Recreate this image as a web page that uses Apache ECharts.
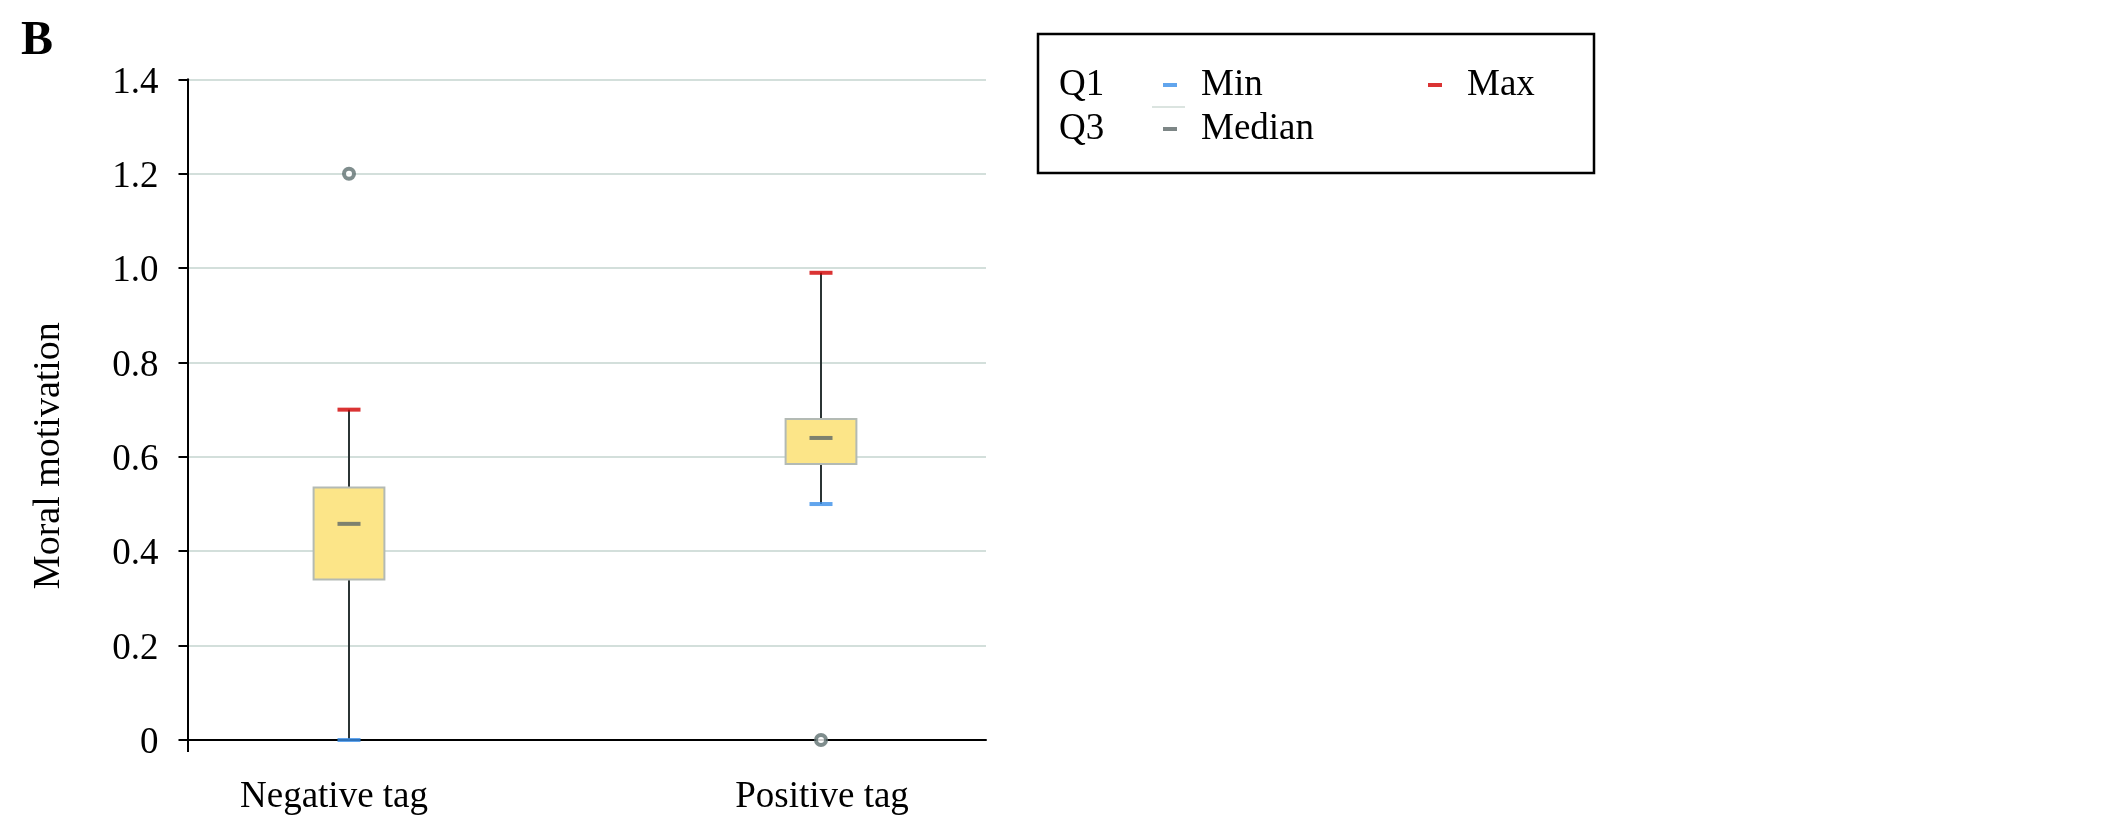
<!DOCTYPE html>
<html>
<head>
<meta charset="utf-8">
<script src="https://cdn.jsdelivr.net/npm/echarts@6/dist/echarts.min.js"></script>
<style>
html,body{margin:0;padding:0;background:#fff;}
#chart{width:2126px;height:839px;}
</style>
</head>
<body>
<div id="chart"></div>
<script>
// ---- data ----
const categories = ['Negative tag', 'Positive tag'];
const minVals = [0.00, 0.50];
const q1Vals = [0.34, 0.585];
const medianVals = [0.458, 0.64];
const q3Vals = [0.535, 0.68];
const maxVals = [0.70, 0.99];
const outlierCats = [0, 1];
const outlierVals = [1.20, 0.00];
const yTickValues = [0, 0.2, 0.4, 0.6, 0.8, 1.0, 1.2, 1.4];
const legendNames = ['Q1', 'Min', 'Max', 'Q3', 'Median'];

const FONT = 'Liberation Serif';

const boxData = categories.map((c, i) => [i, minVals[i], q1Vals[i], q3Vals[i], maxVals[i]]);
const minData = categories.map((c, i) => [i, minVals[i]]);
const maxData = categories.map((c, i) => [i, maxVals[i]]);
const medData = categories.map((c, i) => [i, medianVals[i]]);
const outData = outlierCats.map((c, i) => [c, outlierVals[i]]);

function renderBox(params, api) {
  const x = api.value(0);
  const lo = api.coord([x, api.value(1)]);
  const q1 = api.coord([x, api.value(2)]);
  const q3 = api.coord([x, api.value(3)]);
  const hi = api.coord([x, api.value(4)]);
  const bw = api.size([1, 0])[0] * 0.15;
  const wStyle = { stroke: '#2b3434', lineWidth: 2 };
  return {
    type: 'group',
    children: [
      { type: 'line', shape: { x1: lo[0], y1: lo[1], x2: q1[0], y2: q1[1] }, style: wStyle },
      { type: 'line', shape: { x1: q3[0], y1: q3[1], x2: hi[0], y2: hi[1] }, style: wStyle },
      { type: 'rect', shape: { x: q3[0] - bw / 2, y: q3[1], width: bw, height: q1[1] - q3[1] },
        style: { fill: '#fce588', stroke: '#b3bab4', lineWidth: 2 } }
    ]
  };
}

const tok = { fontFamily: FONT, fontSize: 37, lineHeight: 44, color: '#000', align: 'left' };
const chart = echarts.init(document.getElementById('chart'), null, { renderer: 'canvas' });
chart.setOption({
  animation: false,
  backgroundColor: '#fff',
  title: {
    text: 'B', left: 16, top: 13,
    textStyle: { fontFamily: FONT, fontSize: 48, fontWeight: 'bold', color: '#000' }
  },
  legend: {
    left: 1038, top: 34, width: 560,
    orient: 'horizontal',
    padding: [29, 47, 22, 2],
    itemGap: 0, itemWidth: 14, itemHeight: 4,
    borderColor: '#000', borderWidth: 2.5,
    selectedMode: false,
    icon: 'rect',
    data: legendNames,
    formatter: function (name) {
      if (name === 'Q1' || name === 'Q3') return '{q|' + name + '}';
      if (name === 'Max') return '{g2| }{x|' + name + '}';
      return '{g| }{w|' + name + '}';
    },
    textStyle: {
      fontFamily: FONT, fontSize: 37, lineHeight: 44, color: '#000',
      rich: {
        q: Object.assign({}, tok, { width: 104 }),
        g: Object.assign({}, tok, { width: 19 }),
        g2: Object.assign({}, tok, { width: 20 }),
        w: Object.assign({}, tok, { width: 227 }),
        x: Object.assign({}, tok, { width: 80 })
      }
    }
  },
  graphic: [
    { type: 'line', shape: { x1: 1152, y1: 107, x2: 1185, y2: 107 }, style: { stroke: '#dbe4e0', lineWidth: 2 } }
  ],
  grid: [
    { left: 187.5, right: 2126 - 986, top: 79.3, bottom: 839 - 740 },
    { left: 113, right: 2126 - 1057, top: 79.3, bottom: 839 - 740 }
  ],
  xAxis: [
    {
      gridIndex: 0, type: 'value', min: 0, max: 1, interval: 1,
      axisLine: { show: true, lineStyle: { color: '#000', width: 2 } },
      axisTick: { show: true, length: 12, customValues: [0], lineStyle: { color: '#000', width: 2 } },
      axisLabel: { show: false },
      splitLine: { show: false }
    },
    {
      gridIndex: 1, type: 'category', data: categories, boundaryGap: true,
      axisLine: { show: false }, axisTick: { show: false }, splitLine: { show: false },
      axisLabel: {
        margin: 39,
        formatter: function (v, i) { return i === 0 ? '{n|' + v + '}' : '{p|' + v + '}'; },
        rich: {
          n: { fontFamily: FONT, fontSize: 37, lineHeight: 37, color: '#000', padding: [0, 30, 0, 0] },
          p: { fontFamily: FONT, fontSize: 37, lineHeight: 37, color: '#000', padding: [0, 0, 0, 2] }
        }
      }
    }
  ],
  yAxis: [
    {
      gridIndex: 0, type: 'value', min: 0, max: 1.4, interval: 0.2,
      name: 'Moral motivation', nameLocation: 'middle', nameGap: 119,
      nameTextStyle: { fontFamily: FONT, fontSize: 38, color: '#000', padding: [0, 92, 0, 0] },
      axisLine: { show: true, lineStyle: { color: '#000', width: 2 } },
      axisTick: { show: true, length: 9, lineStyle: { color: '#000', width: 2 } },
      axisLabel: {
        margin: 29,
        formatter: function (v) {
          const idx = yTickValues.findIndex(t => Math.abs(t - v) < 1e-6);
          const t = idx >= 0 ? yTickValues[idx] : v;
          return '{t|' + (t === 0 ? '0' : t.toFixed(1)) + '}';
        },
        rich: {
          t: { fontFamily: FONT, fontSize: 37, lineHeight: 37, color: '#000', padding: [7, 0, 0, 0] }
        }
      },
      splitLine: { show: true, lineStyle: { color: '#d3dfdb', width: 2 } }
    },
    {
      gridIndex: 1, type: 'value', min: 0, max: 1.4, interval: 0.2, show: false
    }
  ],
  series: [
    { name: 'Q1', type: 'scatter', xAxisIndex: 1, yAxisIndex: 1, data: [], itemStyle: { color: 'rgba(0,0,0,0)' } },
    { name: 'Q3', type: 'scatter', xAxisIndex: 1, yAxisIndex: 1, data: [], itemStyle: { color: 'rgba(0,0,0,0)' } },
    {
      name: 'box', type: 'custom', xAxisIndex: 1, yAxisIndex: 1,
      renderItem: renderBox, data: boxData,
      encode: { x: 0, y: [1, 2, 3, 4] }, z: 2
    },
    {
      name: 'Min', type: 'scatter', xAxisIndex: 1, yAxisIndex: 1, data: minData,
      symbol: 'rect', symbolSize: [23, 4], itemStyle: { color: '#3a8ee8' }, z: 4
    },
    {
      name: 'Max', type: 'scatter', xAxisIndex: 1, yAxisIndex: 1, data: maxData,
      symbol: 'rect', symbolSize: [23, 4], itemStyle: { color: '#d10000' }, z: 4
    },
    {
      name: 'Median', type: 'scatter', xAxisIndex: 1, yAxisIndex: 1, data: medData,
      symbol: 'rect', symbolSize: [23, 4], itemStyle: { color: '#5d6868' }, z: 4
    },
    {
      name: 'outliers', type: 'scatter', xAxisIndex: 1, yAxisIndex: 1, data: outData,
      symbol: 'circle', symbolSize: 10,
      itemStyle: { color: '#fff', borderColor: '#5f7070', borderWidth: 4 }, z: 5
    }
  ]
});
</script>
</body>
</html>
